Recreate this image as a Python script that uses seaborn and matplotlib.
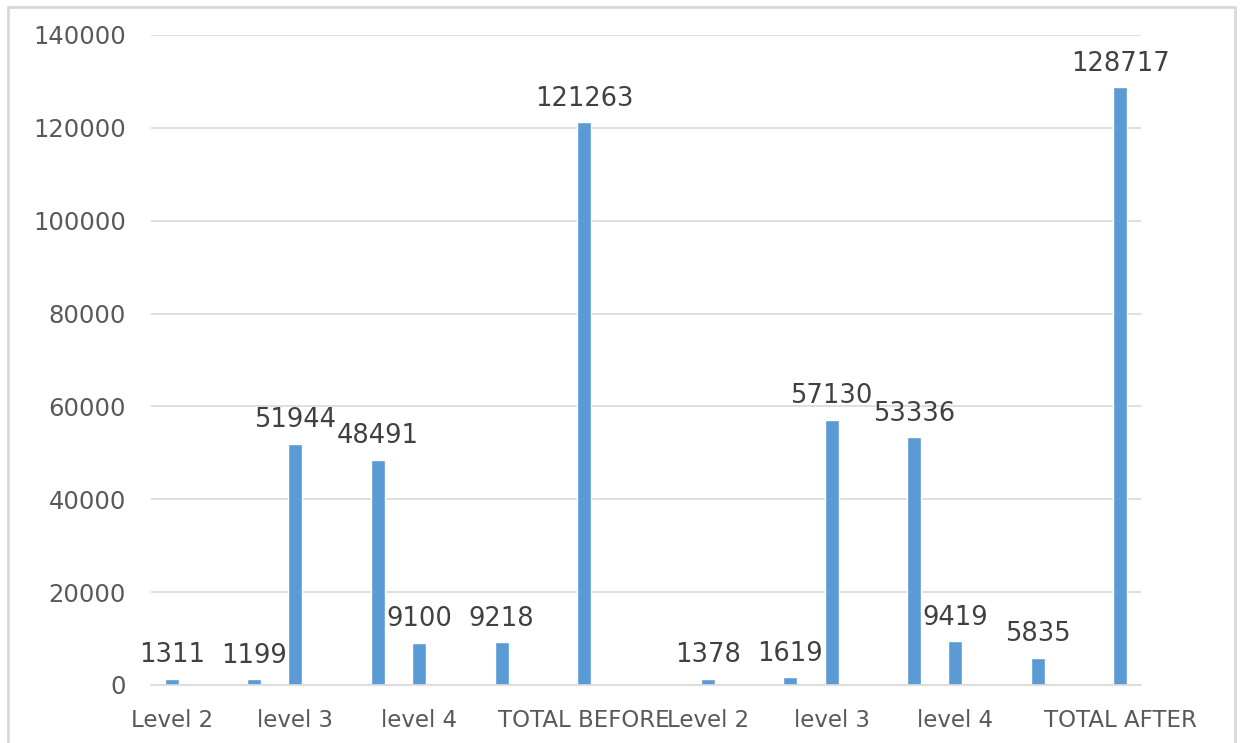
import numpy as np
import pandas as pd
import seaborn as sns
import matplotlib.pyplot as plt
from matplotlib.patches import Rectangle

# One slot per category; blank names are spacer slots with no bar
categories = ["Level 2", "", "", "level 3", "", "", "level 4", "", "", "",
              "TOTAL BEFORE", "", "", "Level 2", "", "", "level 3", "", "",
              "level 4", "", "", "", "TOTAL AFTER"]
values = [1311, None, 1199, 51944, None, 48491, 9100, None, 9218, None,
          121263, None, None, 1378, None, 1619, 57130, None, 53336, 9419,
          None, 5835, None, 128717]
y_ticks = [0, 20000, 40000, 60000, 80000, 100000, 120000, 140000]

BAR = "#5B9BD5"
GRID = "#D9D9D9"
TXT = "#595959"

sns.set_theme(style="white")
plt.rcParams["font.family"] = ["DejaVu Sans"]

df = pd.DataFrame({"slot": range(len(values)), "value": values}).dropna()

fig = plt.figure(figsize=(12.4, 7.43), dpi=100)
ax = fig.add_axes([151 / 1240, 1 - 685 / 743, (1141 - 151) / 1240, (685 - 35) / 743])

sns.barplot(data=df, x="slot", y="value", order=list(range(len(values))),
            color=BAR, saturation=1, width=0.34, ax=ax)

ax.set_ylim(y_ticks[0], y_ticks[-1])
ax.set_yticks(y_ticks)
ax.set_yticklabels([str(t) for t in y_ticks], fontsize=17.5, color=TXT)
ax.set_xticks(range(len(categories)))
ax.set_xticklabels(categories, fontsize=16.5, color=TXT)
ax.tick_params(axis="y", length=0, pad=18)
ax.tick_params(axis="x", length=0, pad=17)
ax.set_xlabel("")
ax.set_ylabel("")

ax.yaxis.grid(True, color=GRID, linewidth=1.2)
ax.set_axisbelow(True)
for side in ["top", "right", "left"]:
    ax.spines[side].set_visible(False)
ax.spines["bottom"].set_color(GRID)
ax.spines["bottom"].set_linewidth(1.2)

# Value labels above each bar
for slot, val in zip(df["slot"], df["value"]):
    ax.annotate(f"{int(val)}", xy=(slot, val), xytext=(0, 7.5),
                textcoords="offset points", ha="center", va="bottom",
                fontsize=18.5, color="#404040")

# Light chart-area frame
fig.add_artist(Rectangle((8 / 1240, -0.02), (1235 - 8) / 1240, 1 - 7 / 743 + 0.02,
                         transform=fig.transFigure, fill=False,
                         edgecolor=GRID, linewidth=2))

fig.savefig("out.png", dpi=100, facecolor="white")
